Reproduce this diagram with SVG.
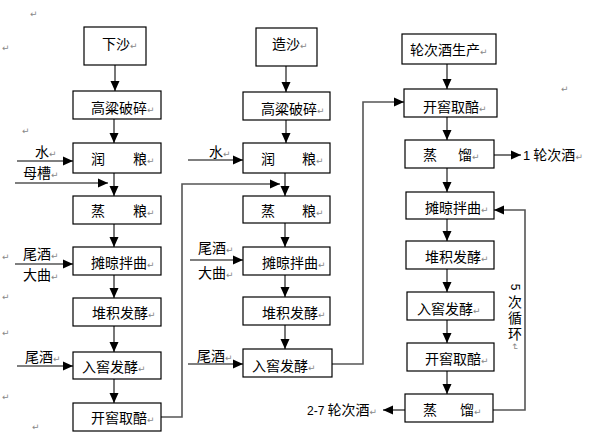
<svg xmlns="http://www.w3.org/2000/svg" width="591" height="442" viewBox="0 0 591 442">
<defs>
<marker id="ah" markerUnits="userSpaceOnUse" markerWidth="10" markerHeight="10" viewBox="0 0 10 10" refX="10" refY="5" orient="auto">
<path d="M0,0.5 L10,5 L0,9.5 Z" fill="#000"/>
</marker>
<style>
rect{fill:#fff;stroke:#000;stroke-width:1.2}
text{font-family:"Noto Sans CJK SC","Liberation Sans",sans-serif;font-size:14px;fill:#000}
.pm{font-family:"DejaVu Sans",sans-serif;font-size:9px;fill:#888}
.num{font-family:"Liberation Sans",sans-serif;font-size:12px}
#connectors path,#connectors line{fill:none;stroke:#555;stroke-width:1.6}
.a{marker-end:url(#ah)}
</style>
</defs>
<rect x="0" y="0" width="591" height="442" style="fill:#fff;stroke:none"/>

<!-- stray paragraph marks -->
<g id="marks">
<text class="pm" x="30" y="17">↵</text>
<text class="pm" x="2" y="51">↵</text>
<text class="pm" x="22" y="134">↵</text>
<text class="pm" x="2" y="260">↵</text>
<text class="pm" x="2" y="300">↵</text>
<text class="pm" x="2" y="336">↵</text>
<text class="pm" x="2" y="400">↵</text>
<text class="pm" x="32" y="430">↵</text>
<text class="pm" x="561" y="92">↵</text>
</g>

<g id="connectors">
<!-- column 1 -->
<line class="a" x1="115" y1="65" x2="115" y2="91"/>
<line class="a" x1="114" y1="119" x2="114" y2="143"/>
<line class="a" x1="114" y1="173" x2="114" y2="196"/>
<line class="a" x1="114" y1="224" x2="114" y2="247"/>
<line class="a" x1="114" y1="275" x2="114" y2="298"/>
<line class="a" x1="114" y1="326" x2="114" y2="352"/>
<line class="a" x1="114" y1="379" x2="114" y2="403"/>
<line class="a" x1="17" y1="161" x2="73" y2="161"/>
<line class="a" x1="15" y1="183" x2="108" y2="183"/>
<line class="a" x1="15" y1="264" x2="73" y2="264"/>
<line class="a" x1="17" y1="366" x2="73" y2="366"/>
<path class="a" d="M161,417 H182 V184 H280"/>
<!-- column 2 -->
<line class="a" x1="286" y1="66" x2="286" y2="92"/>
<line class="a" x1="286" y1="120" x2="286" y2="143"/>
<line class="a" x1="285" y1="173" x2="285" y2="196"/>
<line class="a" x1="285" y1="223" x2="285" y2="247"/>
<line class="a" x1="285" y1="275" x2="285" y2="297"/>
<line class="a" x1="285" y1="325" x2="285" y2="349"/>
<line class="a" x1="188" y1="160" x2="243" y2="160"/>
<line class="a" x1="190" y1="260" x2="243" y2="260"/>
<line class="a" x1="188" y1="364" x2="243" y2="364"/>
<path class="a" d="M332,364 H363 V102 H404"/>
<!-- column 3 -->
<line class="a" x1="447" y1="64" x2="447" y2="89"/>
<line class="a" x1="447" y1="117" x2="447" y2="140"/>
<line class="a" x1="447" y1="168" x2="447" y2="192"/>
<line class="a" x1="447" y1="219" x2="447" y2="241"/>
<line class="a" x1="447" y1="269" x2="447" y2="292"/>
<line class="a" x1="447" y1="320" x2="447" y2="343"/>
<line class="a" x1="447" y1="371" x2="447" y2="394"/>
<line class="a" x1="494" y1="155" x2="521" y2="155"/>
<path class="a" d="M493,410 H525 V210 H494"/>
<line class="a" x1="405" y1="410" x2="383" y2="410"/>
</g>

<!-- column 1 nodes -->
<g id="n-xiasha"><rect x="84" y="27" width="62" height="38"/><text x="102" y="49">下沙<tspan class="pm">↵</tspan></text></g>
<g id="n-c1-posui"><rect x="73" y="91" width="88" height="28"/><text x="91" y="113">高粱破碎<tspan class="pm">↵</tspan></text></g>
<g id="n-c1-runliang"><rect x="73" y="143" width="88" height="30"/><text x="91" y="164">润<tspan x="133">粮</tspan><tspan class="pm">↵</tspan></text></g>
<g id="n-c1-zhengliang"><rect x="73" y="196" width="88" height="28"/><text x="91" y="216">蒸<tspan x="133">粮</tspan><tspan class="pm">↵</tspan></text></g>
<g id="n-c1-tanliang"><rect x="73" y="247" width="88" height="28"/><text x="91" y="268">摊晾拌曲<tspan class="pm">↵</tspan></text></g>
<g id="n-c1-duiji"><rect x="73" y="298" width="88" height="28"/><text x="92" y="318">堆积发酵<tspan class="pm">↵</tspan></text></g>
<g id="n-c1-rujiao"><rect x="73" y="352" width="88" height="27"/><text x="82" y="372">入窖发酵<tspan class="pm">↵</tspan></text></g>
<g id="n-c1-kaijiao"><rect x="73" y="403" width="88" height="28"/><text x="91" y="423">开窖取醅<tspan class="pm">↵</tspan></text></g>
<g id="l-c1">
<text x="35" y="157">水<tspan class="pm">↵</tspan></text>
<text x="23" y="178">母槽<tspan class="pm">↵</tspan></text>
<text x="23" y="259">尾酒<tspan class="pm">↵</tspan></text>
<text x="23" y="280">大曲<tspan class="pm">↵</tspan></text>
<text x="25" y="362">尾酒<tspan class="pm">↵</tspan></text>
</g>

<!-- column 2 nodes -->
<g id="n-zaosha"><rect x="256" y="28" width="61" height="38"/><text x="272" y="49">造沙<tspan class="pm">↵</tspan></text></g>
<g id="n-c2-posui"><rect x="243" y="92" width="87" height="28"/><text x="261" y="114">高粱破碎<tspan class="pm">↵</tspan></text></g>
<g id="n-c2-runliang"><rect x="243" y="143" width="87" height="30"/><text x="261" y="164">润<tspan x="302">粮</tspan><tspan class="pm">↵</tspan></text></g>
<g id="n-c2-zhengliang"><rect x="243" y="196" width="87" height="27"/><text x="261" y="216">蒸<tspan x="302">粮</tspan><tspan class="pm">↵</tspan></text></g>
<g id="n-c2-tanliang"><rect x="243" y="247" width="87" height="28"/><text x="262" y="268">摊晾拌曲<tspan class="pm">↵</tspan></text></g>
<g id="n-c2-duiji"><rect x="243" y="297" width="87" height="28"/><text x="262" y="318">堆积发酵<tspan class="pm">↵</tspan></text></g>
<g id="n-c2-rujiao"><rect x="243" y="349" width="89" height="28"/><text x="252" y="371">入窖发酵<tspan class="pm">↵</tspan></text></g>
<g id="l-c2">
<text x="209" y="157">水<tspan class="pm">↵</tspan></text>
<text x="198" y="253">尾酒<tspan class="pm">↵</tspan></text>
<text x="198" y="278">大曲<tspan class="pm">↵</tspan></text>
<text x="197" y="361">尾酒<tspan class="pm">↵</tspan></text>
</g>

<!-- column 3 nodes -->
<g id="n-lunci"><rect x="402" y="34" width="94" height="30"/><text x="410" y="55">轮次酒生产<tspan class="pm">↵</tspan></text></g>
<g id="n-c3-kaijiao1"><rect x="404" y="89" width="93" height="28"/><text x="423" y="112">开窖取醅<tspan class="pm">↵</tspan></text></g>
<g id="n-c3-zhengliu1"><rect x="405" y="140" width="89" height="28"/><text x="423" y="160">蒸<tspan x="458">馏</tspan><tspan class="pm">↵</tspan></text></g>
<g id="n-c3-tanliang"><rect x="406" y="192" width="88" height="27"/><text x="425" y="213">摊晾拌曲<tspan class="pm">↵</tspan></text></g>
<g id="n-c3-duiji"><rect x="406" y="241" width="88" height="28"/><text x="425" y="262">堆积发酵<tspan class="pm">↵</tspan></text></g>
<g id="n-c3-rujiao"><rect x="407" y="292" width="87" height="28"/><text x="417" y="314">入窖发酵<tspan class="pm">↵</tspan></text></g>
<g id="n-c3-kaijiao2"><rect x="407" y="343" width="87" height="28"/><text x="425" y="364">开窖取醅<tspan class="pm">↵</tspan></text></g>
<g id="n-c3-zhengliu2"><rect x="405" y="394" width="88" height="28"/><text x="423" y="415">蒸<tspan x="460">馏</tspan><tspan class="pm">↵</tspan></text></g>
<g id="l-c3">
<text x="523" y="160"><tspan class="num" style="font-size:13px">1</tspan> 轮次酒<tspan class="pm">↵</tspan></text>
<text x="307" y="415"><tspan class="num">2-7</tspan> 轮次酒<tspan class="pm">↵</tspan></text>
<text class="num" x="0" y="0" transform="translate(511,287) rotate(90)" text-anchor="middle">5</text>
<text x="515" y="295" style="writing-mode:vertical-rl;letter-spacing:2px">次循环<tspan class="pm">↵</tspan></text>
</g>
</svg>
